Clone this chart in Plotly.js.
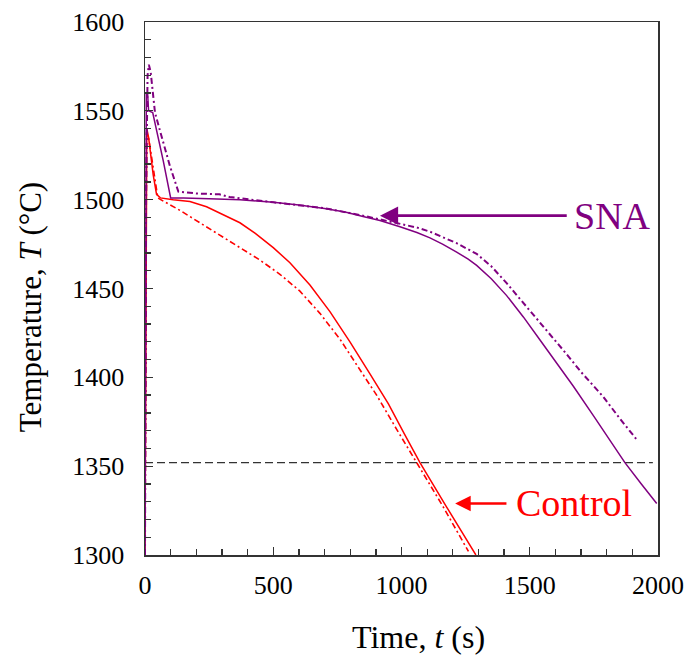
<!DOCTYPE html>
<html>
<head>
<meta charset="utf-8">
<script src="https://cdn.plot.ly/plotly-3.0.1.min.js"></script>
<style>body{margin:0;background:#fff;} #chart{width:684px;height:660px;}</style>
</head>
<body>
<div id="chart"></div>
<script>
// SNA, solid line
const snaSolidTime = [0, 3, 5, 10, 14, 30, 50, 71, 100, 150, 250, 370, 500, 600, 700, 780, 850, 916, 994, 1060, 1111, 1160, 1215, 1260, 1293, 1350, 1410, 1475, 1540, 1610, 1670, 1750, 1810, 1871, 1935, 1995];
const snaSolidTemp = [1300, 1500, 1560, 1560, 1550, 1549, 1536, 1522, 1501, 1501, 1500.5, 1500, 1498.5, 1497, 1495, 1493, 1490.5, 1488.3, 1484.8, 1481.5, 1478.5, 1475, 1470.5, 1466.5, 1463, 1455.5, 1446, 1434, 1421, 1407, 1395, 1378, 1365, 1352, 1340, 1329];
// SNA, dashed line
const snaDashTime = [0, 4, 10, 15, 22, 39, 58, 97, 130, 200, 290, 330, 500, 700, 850, 916, 994, 1060, 1111, 1160, 1215, 1293, 1350, 1410, 1475, 1540, 1600, 1644, 1700, 1787, 1850, 1917];
const snaDashTemp = [1300, 1500, 1570, 1576, 1572, 1549, 1539, 1519, 1504.5, 1503.5, 1503, 1501.5, 1498.5, 1495.2, 1491, 1489, 1486.7, 1484.3, 1482, 1479, 1475.5, 1469.5, 1462.5, 1453, 1442, 1431, 1421, 1413, 1403, 1389, 1377, 1365];
// Control, solid line
const ctrlSolidTime = [0, 3, 7, 14, 20, 32, 45, 60, 110, 175, 240, 300, 370, 430, 500, 565, 643, 721, 799, 877, 949, 1010, 1072, 1176, 1290];
const ctrlSolidTemp = [1300, 1450, 1540, 1535, 1527, 1514, 1503, 1501, 1500, 1499, 1496, 1492, 1487, 1481, 1473, 1464.5, 1452, 1437, 1420, 1402, 1385, 1368.5, 1352, 1327, 1300];
// Control, dashed line
const ctrlDashTime = [0, 3, 6, 15, 30, 40, 50, 80, 136, 214, 292, 370, 448, 526, 604, 682, 760, 830, 903, 980, 1059, 1163, 1261];
const ctrlDashTemp = [1300, 1460, 1538, 1534, 1520, 1508, 1501, 1498.5, 1494, 1487, 1480, 1473, 1466, 1458, 1448.5, 1436, 1421.5, 1406, 1390, 1371, 1351.7, 1327, 1302];
// reference (dashed black) line
const refLineTime = [0, 1980];
const refLineTemp = [1352, 1352];

const purple = '#800080';
const red = '#ff0000';
const serif = 'Liberation Serif, Times New Roman, serif';

const traces = [
  {x: refLineTime, y: refLineTemp, mode: 'lines', line: {color: '#333', width: 1.3, dash: '8px,4px'}, hoverinfo: 'skip'},
  {x: ctrlDashTime, y: ctrlDashTemp, mode: 'lines', line: {color: red, width: 1.6, dash: '6px,3px,2px,3px'}},
  {x: ctrlSolidTime, y: ctrlSolidTemp, mode: 'lines', line: {color: red, width: 1.5}},
  {x: snaDashTime, y: snaDashTemp, mode: 'lines', line: {color: purple, width: 2, dash: '6px,3px,2px,3px'}},
  {x: snaSolidTime, y: snaSolidTemp, mode: 'lines', line: {color: purple, width: 1.5}}
];

const layout = {
  width: 684, height: 660,
  margin: {l: 145, r: 26, t: 22, b: 105},
  paper_bgcolor: '#fff', plot_bgcolor: '#fff',
  showlegend: false,
  font: {family: serif, color: '#000'},
  xaxis: {
    range: [0, 2000], tick0: 0, dtick: 500,
    ticks: 'inside', ticklen: 8, tickwidth: 1.3, tickcolor: '#333',
    minor: {dtick: 100, ticks: 'inside', ticklen: 6, tickwidth: 1.3, tickcolor: '#333'},
    showgrid: false, zeroline: false,
    showline: true, linecolor: '#333', linewidth: 1.5, mirror: true,
    tickfont: {family: serif, size: 26, color: '#000'},
    ticklabelstandoff: 6
  },
  yaxis: {
    range: [1300, 1600], tick0: 1300, dtick: 50,
    ticks: 'inside', ticklen: 8, tickwidth: 1.3, tickcolor: '#333',
    minor: {dtick: 10, ticks: 'inside', ticklen: 6, tickwidth: 1.3, tickcolor: '#333'},
    showgrid: false, zeroline: false,
    showline: true, linecolor: '#333', linewidth: 1.5, mirror: true,
    tickfont: {family: serif, size: 26, color: '#000'},
    ticklabelstandoff: 14
  },
  annotations: [
    {x: 0.534, y: -0.154, xref: 'paper', yref: 'paper', xanchor: 'center', yanchor: 'middle',
     text: 'Time, <i>t</i> (s)', showarrow: false, font: {family: serif, size: 32, color: '#000'}},
    {x: -0.224, y: 0.465, xref: 'paper', yref: 'paper', xanchor: 'center', yanchor: 'middle', textangle: -90,
     text: 'Temperature, <i>T</i> (°C)', showarrow: false, font: {family: serif, size: 31, color: '#000'}},
    {x: 916, y: 1491, ax: 1650, ay: 1491, axref: 'x', ayref: 'y', xref: 'x', yref: 'y',
     text: '', showarrow: true, arrowhead: 2, arrowsize: 1.4, arrowwidth: 2.6, arrowcolor: purple, standoff: 0},
    {x: 1824, y: 1491, xref: 'x', yref: 'y', text: 'SNA', showarrow: false,
     font: {family: serif, size: 38, color: purple}},
    {x: 1209, y: 1329, ax: 1415, ay: 1329, axref: 'x', ayref: 'y', xref: 'x', yref: 'y',
     text: '', showarrow: true, arrowhead: 2, arrowsize: 1.2, arrowwidth: 2.6, arrowcolor: red, standoff: 0},
    {x: 1673, y: 1329, xref: 'x', yref: 'y', text: 'Control', showarrow: false,
     font: {family: serif, size: 38, color: red}}
  ]
};

Plotly.newPlot('chart', traces, layout, {displayModeBar: false, staticPlot: true});
</script>
</body>
</html>
